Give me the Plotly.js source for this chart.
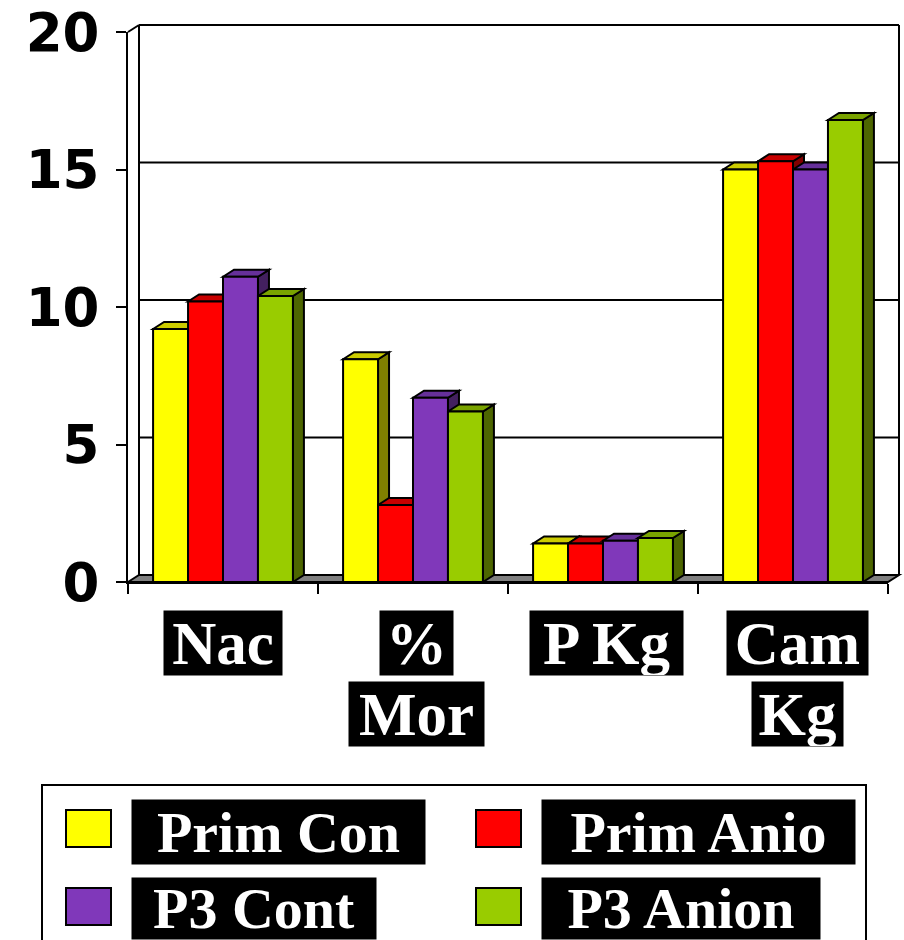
<!DOCTYPE html>
<html><head><meta charset="utf-8">
<script src="https://cdn.plot.ly/plotly-3.0.1.min.js"></script>
<style>html,body{margin:0;padding:0;background:#fff}</style>
</head><body><div id="chart" style="width:904px;height:940px"></div>
<script>
// ---- data ----
const categories = ['Nac', '% Mor', 'P Kg', 'Cam Kg'];
const categoryLines = [['Nac'], ['%', 'Mor'], ['P Kg'], ['Cam', 'Kg']];
const seriesNames = ['Prim Con', 'Prim Anio', 'P3 Cont', 'P3 Anion'];
const primCon  = [9.2, 8.1, 1.4, 15.0];
const primAnio = [10.2, 2.8, 1.4, 15.3];
const p3Cont   = [11.1, 6.7, 1.5, 15.0];
const p3Anion  = [10.4, 6.2, 1.6, 16.8];
const yTickVals = [0, 5, 10, 15, 20];
const yTickText = ['0', '5', '10', '15', '20'];

// ---- style ----
const series = [primCon, primAnio, p3Cont, p3Anion];
const frontColors = ['#FFFF00', '#FF0000', '#8038BA', '#99CC00'];
const topColors   = ['#CCCC00', '#C80000', '#66309A', '#7AA300'];
const sideColors  = ['#808000', '#800000', '#43205F', '#4D6600'];

const W = 904, H = 940;
const ML = 128, MR = 16, MT = 32, MB = 358;
const plotW = W - ML - MR, plotH = H - MT - MB;
const XR = [-0.5, 3.5], YR = [0, 20];
const DXpx = 11, DYpx = 7;
const DX = DXpx / plotW * (XR[1] - XR[0]);
const DY = DYpx / plotH * (YR[1] - YR[0]);
const dxp = DXpx / plotW, dyp = DYpx / plotH;
const BW = 0.184;
const px2x = px => (px - ML) / plotW;
const py2y = py => (H - MB - py) / plotH;
const yPaper = v => (v - YR[0]) / (YR[1] - YR[0]);

const xIdx = categories.map((_, i) => i);

const traces = series.map((vals, s) => ({
  type: 'bar', x: xIdx, y: vals, width: BW, offset: -2 * BW + s * BW,
  name: seriesNames[s],
  marker: {color: frontColors[s], line: {color: '#000', width: 2}},
  showlegend: false, hoverinfo: 'skip'
}));

const shapes = [];
const blk = {color: '#000', width: 2};
// floor
shapes.push({type: 'path', xref: 'paper', yref: 'paper', layer: 'below',
  path: `M0,0 L${dxp},${dyp} L${1 + dxp},${dyp} L1,0 Z`, fillcolor: '#808080', line: blk});
// back wall grid lines
yTickVals.filter(t => t > 0).forEach(t => {
  shapes.push({type: 'line', xref: 'paper', yref: 'paper', layer: 'below',
    x0: dxp, x1: 1 + dxp, y0: yPaper(t) + dyp, y1: yPaper(t) + dyp, line: blk});
});
shapes.push({type: 'line', xref: 'paper', yref: 'paper', layer: 'below', x0: dxp, x1: dxp, y0: dyp, y1: 1 + dyp, line: blk});
shapes.push({type: 'line', xref: 'paper', yref: 'paper', layer: 'below', x0: 1 + dxp, x1: 1 + dxp, y0: dyp, y1: 1 + dyp, line: blk});
shapes.push({type: 'line', xref: 'paper', yref: 'paper', layer: 'below', x0: 0, x1: dxp, y0: 1, y1: 1 + dyp, line: blk});

// 3D faces of bars
series.forEach((vals, s) => vals.forEach((v, i) => {
  const x0 = i - 2 * BW + s * BW, x1 = x0 + BW;
  shapes.push({type: 'path', xref: 'x', yref: 'y', layer: 'below',
    path: `M${x1},0 L${x1 + DX},${DY} L${x1 + DX},${v + DY} L${x1},${v} Z`,
    fillcolor: sideColors[s], line: blk});
  shapes.push({type: 'path', xref: 'x', yref: 'y', layer: 'below',
    path: `M${x0},${v} L${x0 + DX},${v + DY} L${x1 + DX},${v + DY} L${x1},${v} Z`,
    fillcolor: topColors[s], line: blk});
}));

// category labels
const annotations = [];
const labelFont = {family: 'Liberation Serif', size: 61, color: '#FFFFFF', weight: 'bold'};
const catBoxW = [[118], [73, 135], [153], [141, 91]];
const catShift = [0, 3, 3, 4];
const rowTop = [610, 681];
categoryLines.forEach((lines, i) => lines.forEach((t, r) => {
  annotations.push({xref: 'x', yref: 'paper', x: i, xshift: catShift[i], y: py2y(rowTop[r]),
    xanchor: 'center', yanchor: 'top', text: t, showarrow: false,
    font: labelFont, bgcolor: '#000', borderpad: 0, width: catBoxW[i][r], height: 64});
}));

// legend
shapes.push({type: 'rect', xref: 'paper', yref: 'paper', layer: 'above',
  x0: px2x(42), x1: px2x(866), y0: py2y(785), y1: py2y(990), line: blk, fillcolor: 'rgba(0,0,0,0)'});
const legFont = {family: 'Liberation Serif', size: 58, color: '#FFFFFF', weight: 'bold'};
const legTextLeft = [131, 541], legSwLeft = [66, 476], legRowTop = [799, 877], legRowH = [64, 61];
const legBoxW = [293, 313, 244, 278];
seriesNames.forEach((nm, s) => {
  const c = s % 2, r = Math.floor(s / 2);
  shapes.push({type: 'rect', xref: 'paper', yref: 'paper', layer: 'above',
    x0: px2x(legSwLeft[c]), x1: px2x(legSwLeft[c] + 45),
    y0: py2y(legRowTop[r] + 11), y1: py2y(legRowTop[r] + 48),
    fillcolor: frontColors[s], line: {color: '#000', width: 2}});
  annotations.push({xref: 'paper', yref: 'paper', x: px2x(legTextLeft[c]), y: py2y(legRowTop[r]),
    xanchor: 'left', yanchor: 'top', text: nm, showarrow: false,
    font: legFont, bgcolor: '#000', borderpad: 0, width: legBoxW[s], height: legRowH[r]});
});

const layout = {
  width: W, height: H, margin: {l: ML, r: MR, t: MT, b: MB, autoexpand: false},
  paper_bgcolor: '#fff', plot_bgcolor: 'rgba(0,0,0,0)',
  barmode: 'overlay', showlegend: false,
  xaxis: {range: XR, showgrid: false, zeroline: false, showline: true, linecolor: '#000', linewidth: 2,
    tickmode: 'array', tickvals: [-0.5, 0.5, 1.5, 2.5, 3.5], showticklabels: false,
    ticks: 'outside', ticklen: 10, tickwidth: 2, tickcolor: '#000', fixedrange: true},
  yaxis: {range: YR, showgrid: false, zeroline: false, showline: true, linecolor: '#000', linewidth: 2,
    tickmode: 'array', tickvals: yTickVals, ticktext: yTickText,
    ticks: 'outside', ticklen: 10, tickwidth: 2, tickcolor: '#000', ticklabelstandoff: 6,
    tickfont: {family: 'DejaVu Sans', size: 53, color: '#000', weight: 'bold'}, fixedrange: true},
  shapes: shapes, annotations: annotations
};
Plotly.newPlot('chart', traces, layout, {staticPlot: true, displayModeBar: false});
</script></body></html>
